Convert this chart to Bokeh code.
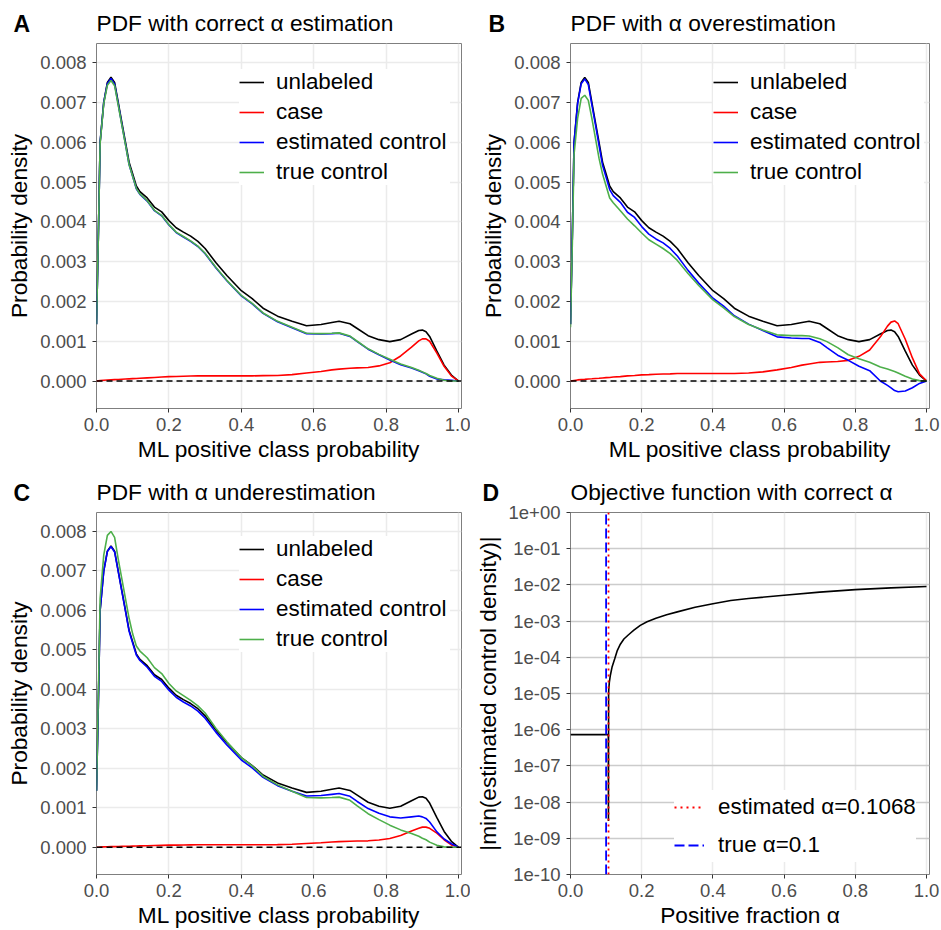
from bokeh.plotting import figure
from bokeh.layouts import gridplot
from bokeh.models import (Range1d, FixedTicker, NumeralTickFormatter, Span, Legend,
                          LegendItem, Title)
from bokeh.embed import file_html
from bokeh.resources import INLINE

FONT = "Liberation Sans"

# ---------------- data ----------------
prob = [0.0, 0.005, 0.01, 0.02, 0.03, 0.04, 0.05, 0.06, 0.07, 0.08, 0.09, 0.10, 0.11, 0.12,
        0.14, 0.16, 0.18, 0.20, 0.22, 0.24, 0.26, 0.28, 0.30, 0.33, 0.36, 0.40, 0.43, 0.46,
        0.50, 0.54, 0.58, 0.62, 0.65, 0.67, 0.70, 0.72, 0.75, 0.78, 0.81, 0.84, 0.87, 0.89,
        0.90, 0.91, 0.92, 0.94, 0.96, 0.98, 1.0]

unlabeled = [0.00143, 0.0036, 0.0060, 0.0070, 0.0075, 0.00763, 0.0075, 0.0070, 0.0065, 0.0060,
             0.0055, 0.0052, 0.0049, 0.00476, 0.0046, 0.00437, 0.00425, 0.00403, 0.00385, 0.00374,
             0.00364, 0.00351, 0.00333, 0.00297, 0.00265, 0.00227, 0.00207, 0.00183, 0.00163,
             0.0015, 0.00139, 0.00142, 0.00147, 0.0015, 0.00144, 0.00132, 0.00114, 0.00104,
             0.00099, 0.00104, 0.00118, 0.00127, 0.00128, 0.00124, 0.00112, 0.00075, 0.0004,
             0.00015, 0.0]

# Panel A: correct alpha
case_A = [0.0, 0.000005, 0.00001, 0.00002, 0.000025, 0.00003, 0.000035, 0.00004, 0.000045,
          0.00005, 0.000055, 0.00006, 0.000065, 0.00007, 0.00008, 0.00009, 0.0001, 0.00011,
          0.000115, 0.00012, 0.000125, 0.00013, 0.00013, 0.00013, 0.00013, 0.00013, 0.00013,
          0.000135, 0.00014, 0.00016, 0.0002, 0.00024, 0.00028, 0.0003, 0.00032, 0.00033,
          0.00034, 0.00038, 0.00046, 0.00063, 0.00085, 0.00101, 0.00106, 0.00106, 0.001,
          0.0007, 0.00037, 0.00013, 0.0]
est_control_A = [0.00143, 0.0036, 0.0060, 0.0070, 0.00747, 0.0076, 0.00746, 0.00696, 0.00645,
                 0.00595, 0.00544, 0.00514, 0.00483, 0.00469, 0.00452, 0.00428, 0.00415, 0.00392,
                 0.00373, 0.00362, 0.00351, 0.00338, 0.0032, 0.00284, 0.00252, 0.00214, 0.00194,
                 0.0017, 0.00149, 0.00134, 0.00119, 0.00118, 0.00119, 0.0012, 0.00112, 0.00099,
                 0.0008, 0.00066, 0.00053, 0.00041, 0.00033, 0.00026, 0.00022, 0.00018, 0.00012,
                 0.00005, 0.00003, 0.00002, 0.0]
true_control_A = [0.00143, 0.00358, 0.00597, 0.00697, 0.00743, 0.00755, 0.00742, 0.00693,
                  0.00643, 0.00594, 0.00544, 0.00514, 0.00484, 0.0047, 0.00453, 0.00429, 0.00416,
                  0.00393, 0.00374, 0.00363, 0.00352, 0.00339, 0.00321, 0.00285, 0.00253, 0.00215,
                  0.00195, 0.00171, 0.0015, 0.00135, 0.0012, 0.00119, 0.0012, 0.00121, 0.00113,
                  0.001, 0.00081, 0.00067, 0.00055, 0.00043, 0.00034, 0.00027, 0.00023, 0.00019,
                  0.00014, 0.00007, 0.00002, 0.0, 0.0]

# Panel B: alpha overestimation
case_B = [0.0, 0.000007, 0.000014, 0.000028, 0.000035, 0.000042, 0.00005, 0.000056, 0.000063,
          0.00007, 0.000078, 0.000085, 0.00009, 0.0001, 0.00011, 0.00013, 0.00014, 0.000155,
          0.00016, 0.00017, 0.000175, 0.00018, 0.00019, 0.00019, 0.00019, 0.00019, 0.00019,
          0.00019, 0.0002, 0.00023, 0.00028, 0.00034, 0.0004, 0.00043, 0.00047, 0.00048,
          0.00049, 0.00052, 0.00062, 0.00078, 0.00111, 0.00138, 0.00148, 0.00151, 0.00144,
          0.00105, 0.00058, 0.00018, 0.0]
est_control_B = [0.00143, 0.00359, 0.00599, 0.00697, 0.00747, 0.00759, 0.00745, 0.00694, 0.00644,
                 0.00593, 0.00542, 0.00512, 0.00481, 0.00466, 0.00449, 0.00424, 0.00411, 0.00388,
                 0.00369, 0.00357, 0.00347, 0.00333, 0.00314, 0.00278, 0.00246, 0.00208, 0.00188,
                 0.00164, 0.00143, 0.00127, 0.00111, 0.00108, 0.00107, 0.00107, 0.00097, 0.00084,
                 0.00065, 0.00052, 0.00037, 0.00026, 0.0, -0.00011, -0.00017, -0.00024, -0.00027,
                 -0.00025, -0.00017, -0.00006, 0.0]
true_control_B = [0.00135, 0.0034, 0.0057, 0.0066, 0.0071, 0.00718, 0.00705, 0.0066, 0.0061,
                  0.0056, 0.0052, 0.0049, 0.0046, 0.00448, 0.00428, 0.00407, 0.0039, 0.00372,
                  0.00355, 0.00344, 0.00333, 0.0032, 0.00303, 0.0027, 0.0024, 0.00204, 0.00184,
                  0.00162, 0.00142, 0.00128, 0.00116, 0.00114, 0.00114, 0.00113, 0.00106, 0.00099,
                  0.00084, 0.00066, 0.00056, 0.00047, 0.00035, 0.0003, 0.00027, 0.00024, 0.0002,
                  0.00012, 0.00005, 0.00001, 0.0]

# Panel C: alpha underestimation
case_C = [0.0, 0.000002, 0.000005, 0.00001, 0.000012, 0.000015, 0.000017, 0.00002, 0.000022,
          0.000024, 0.000026, 0.000029, 0.000031, 0.000034, 0.000038, 0.000043, 0.000048,
          0.000053, 0.000055, 0.000058, 0.00006, 0.000062, 0.000062, 0.000062, 0.000062,
          0.000062, 0.000062, 0.000065, 0.000067, 0.000077, 0.000096, 0.000115, 0.000134,
          0.000144, 0.000154, 0.000158, 0.000163, 0.000182, 0.00022, 0.0003, 0.00041, 0.00048,
          0.00051, 0.00051, 0.00048, 0.00036, 0.00019, 0.00006, 0.0]
est_control_C = [0.00143, 0.0036, 0.0060, 0.00699, 0.00749, 0.00762, 0.00748, 0.00698, 0.00648,
                 0.00598, 0.00547, 0.00517, 0.00487, 0.00473, 0.00456, 0.00433, 0.0042, 0.00398,
                 0.0038, 0.00368, 0.00358, 0.00345, 0.00327, 0.00291, 0.00259, 0.00221, 0.00201,
                 0.00177, 0.00156, 0.00142, 0.0013, 0.00131, 0.00134, 0.00136, 0.00129, 0.00116,
                 0.00098, 0.00086, 0.00077, 0.00074, 0.00077, 0.00079, 0.00077, 0.00073, 0.00064,
                 0.00039, 0.00021, 0.00009, 0.0]
true_control_C = [0.00143, 0.0038, 0.0063, 0.0074, 0.0079, 0.0080, 0.00785, 0.0073, 0.0068,
                  0.0063, 0.0058, 0.0054, 0.0051, 0.00497, 0.0048, 0.00455, 0.0044, 0.00415,
                  0.00396, 0.00384, 0.00372, 0.00358, 0.0034, 0.00301, 0.00267, 0.00227, 0.00206,
                  0.0018, 0.00158, 0.00142, 0.00126, 0.00125, 0.00126, 0.00127, 0.00119, 0.00105,
                  0.00085, 0.0007, 0.00056, 0.00044, 0.00035, 0.00028, 0.00023, 0.00019, 0.00013,
                  0.00005, 0.00001, 0.0, 0.0]

# Panel D: objective function
alpha_grid = [0.0, 0.02, 0.04, 0.06, 0.08, 0.10, 0.104, 0.1062, 0.1066, 0.1070, 0.1075, 0.109,
              0.112, 0.117, 0.124, 0.131, 0.14, 0.15, 0.163, 0.178, 0.196, 0.215, 0.24, 0.27,
              0.3, 0.35, 0.4, 0.45, 0.5, 0.6, 0.7, 0.8, 0.9, 1.0]
objective = [7.3e-7, 7.3e-7, 7.3e-7, 7.3e-7, 7.3e-7, 7.3e-7, 7.3e-7, 7.3e-7, 3e-9, 1e-5, 1.3e-5,
             2e-5, 3.2e-5, 5.5e-5, 9e-5, 1.5e-4, 2.3e-4, 3.2e-4, 4.2e-4, 5.6e-4, 7.6e-4, 9.6e-4,
             1.2e-3, 1.5e-3, 1.8e-3, 2.4e-3, 3.0e-3, 3.7e-3, 4.2e-3, 5.2e-3, 6.3e-3, 7.4e-3,
             8.3e-3, 9.0e-3]
alpha_est = 0.1068
alpha_true = 0.1

x_ticks = [0.0, 0.2, 0.4, 0.6, 0.8, 1.0]
pdf_y_ticks = [0.0, 0.001, 0.002, 0.003, 0.004, 0.005, 0.006, 0.007, 0.008]
obj_y_ticks = [1e-10, 1e-9, 1e-8, 1e-7, 1e-6, 1e-5, 1e-4, 1e-3, 1e-2, 1e-1, 1.0]
obj_y_labels = ["1e-10", "1e-09", "1e-08", "1e-07", "1e-06", "1e-05", "1e-04", "1e-03",
                "1e-02", "1e-01", "1e+00"]

series_names = ["unlabeled", "case", "estimated control", "true control"]
series_colors = ["#000000", "#FF0000", "#0000FF", "#4DAF4A"]

TITLE_PX = 22.7
TITLE_STANDOFF = 15
# the letter title sits in the slot outside the main title; a negative standoff
# pulls it back down onto the main title's line
LETTER_STANDOFF = -TITLE_STANDOFF - 2 * (2 + 1.2 * TITLE_PX)


# ---------------- helpers ----------------
def add_titles(p, letter, title, letter_offset):
    p.title.visible = False
    main = Title(text=title, align="left", offset=0, standoff=TITLE_STANDOFF, text_font=FONT,
                 text_font_size="%.1fpx" % TITLE_PX, text_font_style="normal",
                 text_color="black")
    p.add_layout(main, "above")
    lt = Title(text=letter, align="left", offset=letter_offset, text_font=FONT,
               text_font_size="23px", text_font_style="bold", text_color="black")
    try:
        lt.standoff = LETTER_STANDOFF
    except ValueError:
        lt.standoff = 0
    p.add_layout(lt, "above")


def base_fig(width, borders, x_range, y_range, y_axis_type, x_label, y_label):
    left, right, top, bottom = borders
    p = figure(width=width, height=465, x_range=x_range, y_range=y_range,
               y_axis_type=y_axis_type, output_backend="svg", toolbar_location=None,
               min_border_left=left, min_border_right=right, min_border_top=top,
               min_border_bottom=bottom)
    p.background_fill_color = "white"
    p.border_fill_color = "white"
    p.outline_line_color = "#7F7F7F"
    p.outline_line_width = 1
    for ax in (p.xaxis[0], p.yaxis[0]):
        ax.axis_line_color = None
        ax.major_tick_line_color = "#333333"
        ax.major_tick_line_width = 1
        ax.major_tick_out = 4
        ax.major_tick_in = 0
        ax.minor_tick_line_color = None
        ax.major_label_text_font = FONT
        ax.major_label_text_font_size = "18.5px"
        ax.major_label_text_color = "#4D4D4D"
        ax.axis_label_text_font = FONT
        ax.axis_label_text_font_size = "22.7px"
        ax.axis_label_text_font_style = "normal"
        ax.axis_label_text_color = "black"
    p.xaxis.axis_label = x_label
    p.yaxis.axis_label = y_label
    p.xaxis.major_label_standoff = 5
    p.yaxis.major_label_standoff = 6
    p.xaxis.axis_label_standoff = 2
    p.yaxis.axis_label_standoff = 5
    p.xaxis.ticker = FixedTicker(ticks=x_ticks)
    p.xgrid.ticker = FixedTicker(ticks=x_ticks)
    p.xaxis.formatter = NumeralTickFormatter(format="0.0")
    p.xgrid.grid_line_color = "#EBEBEB"
    p.xgrid.grid_line_width = 1.5
    p.ygrid.grid_line_width = 1.5
    p.xgrid.minor_grid_line_color = None
    p.ygrid.minor_grid_line_color = None
    return p


def pdf_panel(width, borders, legend_xy, series):
    p = base_fig(width, borders, Range1d(0, 1.008), Range1d(-0.00069, 0.00848), "linear",
                 "ML positive class probability", "Probability density")
    p.yaxis.ticker = FixedTicker(ticks=pdf_y_ticks)
    p.ygrid.ticker = FixedTicker(ticks=pdf_y_ticks)
    p.yaxis.formatter = NumeralTickFormatter(format="0.000")
    p.ygrid.grid_line_color = "#EBEBEB"
    rends = []
    for ys, col in zip(series, series_colors):
        rends.append(p.line(prob, ys, line_color=col, line_width=1.6))
    p.add_layout(Span(location=0, dimension="width", line_color="black",
                      line_dash="6 4", line_width=1.5))
    legend = Legend(items=[LegendItem(label=n, renderers=[r]) for n, r in zip(series_names, rends)],
                    location=legend_xy, padding=10, spacing=4, glyph_width=25, glyph_height=26,
                    label_height=26, label_standoff=12, label_width=174,
                    label_text_font=FONT, label_text_font_size="22.4px",
                    label_text_color="black", border_line_color=None,
                    background_fill_color="white", background_fill_alpha=1.0, margin=0)
    p.add_layout(legend)
    return p


pA = pdf_panel(470, (96, 9, 43, 57), (143, 223),
               [unlabeled, case_A, est_control_A, true_control_A])
add_titles(pA, "A", "PDF with correct α estimation", -83)
pB = pdf_panel(471, (94, 12, 43, 57), (143, 223),
               [unlabeled, case_B, est_control_B, true_control_B])
add_titles(pB, "B", "PDF with α overestimation", -82)
pC = pdf_panel(470, (96, 9, 47, 54), (143, 222),
               [unlabeled, case_C, est_control_C, true_control_C])
add_titles(pC, "C", "PDF with α underestimation", -83)

# Panel D
pD = base_fig(471, (100, 11, 47, 53), Range1d(0, 1.0084),
              Range1d(obj_y_ticks[0], obj_y_ticks[-1]), "log",
              "Positive fraction α", "|min(estimated control density)|")
pD.yaxis.ticker = FixedTicker(ticks=obj_y_ticks)
pD.ygrid.ticker = FixedTicker(ticks=obj_y_ticks)
pD.yaxis.major_label_overrides = dict(zip(obj_y_ticks, obj_y_labels))
pD.ygrid.grid_line_color = "#CCCCCC"
pD.ygrid.grid_line_width = 1.6
pD.line(alpha_grid, objective, line_color="black", line_width=1.6)
r_est = pD.segment(x0=[alpha_est], x1=[alpha_est], y0=[obj_y_ticks[0]], y1=[obj_y_ticks[-1]],
                   line_color="#FF0000", line_dash="2 4", line_width=1.8)
r_true = pD.segment(x0=[alpha_true], x1=[alpha_true], y0=[obj_y_ticks[0]], y1=[obj_y_ticks[-1]],
                    line_color="#0000FF", line_dash="10 4", line_width=1.8)
legD = Legend(items=[LegendItem(label="estimated α=%.4f" % alpha_est, renderers=[r_est]),
                     LegendItem(label="true α=%.1f" % alpha_true, renderers=[r_true])],
              location=(104, 12), padding=12, spacing=4, glyph_width=30, glyph_height=34,
              label_height=34, label_standoff=14, label_width=188,
              label_text_font=FONT, label_text_font_size="22.4px", label_text_color="black",
              border_line_color=None, background_fill_color="white",
              background_fill_alpha=1.0, margin=0)
pD.add_layout(legD)
add_titles(pD, "D", "Objective function with correct α", -88)

grid = gridplot([[pA, pB], [pC, pD]], toolbar_location=None)
open("out.html", "w").write(file_html(grid, INLINE))
